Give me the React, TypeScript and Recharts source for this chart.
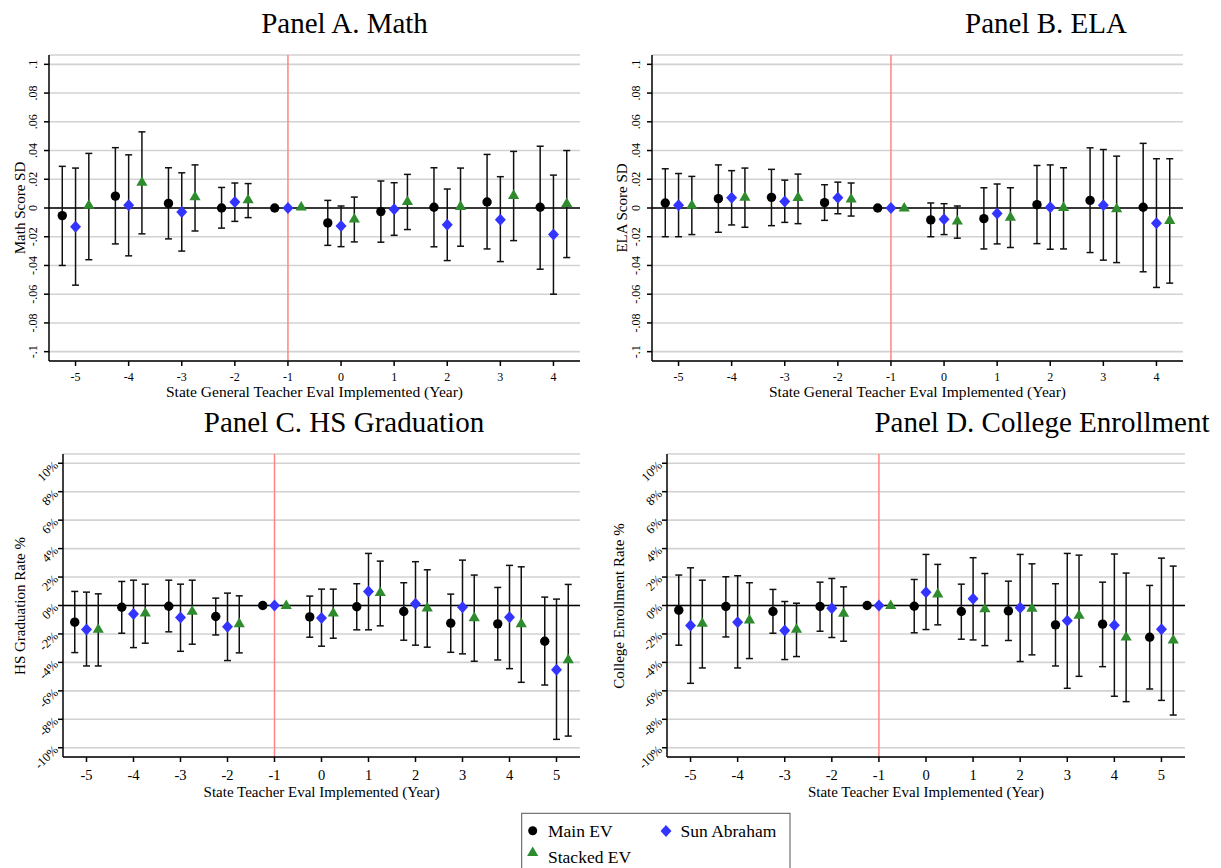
import React from 'react';
import { ScatterChart, Scatter, XAxis, YAxis, CartesianGrid, ReferenceLine, ErrorBar } from 'recharts';

const FONT = '"Liberation Serif", "Times New Roman", Times, serif';
const BLUE = '#3434ff';
const GREEN = '#2e8b2e';

// ---------- categories / ticks ----------
const yearsAB = [-5, -4, -3, -2, -1, 0, 1, 2, 3, 4];
const yearsCD = [-5, -4, -3, -2, -1, 0, 1, 2, 3, 4, 5];
const yTicksAB = [-0.1, -0.08, -0.06, -0.04, -0.02, 0, 0.02, 0.04, 0.06, 0.08, 0.1];
const yTicksCD = [-10, -8, -6, -4, -2, 0, 2, 4, 6, 8, 10];

// ---------- Panel A. Math ----------
const mathMain = [-0.0053, 0.0083, 0.0032, 0, 0, -0.0104, -0.0025, 0.0005, 0.0042, 0.0005];
const mathMainLo = [-0.040, -0.025, -0.0215, -0.014, null, -0.026, -0.0238, -0.027, -0.0285, -0.0426];
const mathMainHi = [0.029, 0.042, 0.028, 0.0143, null, 0.0053, 0.0188, 0.028, 0.0373, 0.043];
const mathSun = [-0.013, 0.0019, -0.0028, 0.0042, 0, -0.0125, -0.0009, -0.0116, -0.0081, -0.0185];
const mathSunLo = [-0.0537, -0.0333, -0.030, -0.0093, null, -0.0269, -0.019, -0.0366, -0.0373, -0.060];
const mathSunHi = [0.0278, 0.037, 0.0245, 0.0174, null, 0.0014, 0.0176, 0.0132, 0.0218, 0.0229];
const mathStk = [0.002, 0.018, 0.0079, 0.0058, 0.0007, -0.0076, 0.0046, 0.0012, 0.0088, 0.0032];
const mathStkLo = [-0.036, -0.018, -0.016, -0.0067, null, -0.0236, -0.015, -0.0266, -0.0227, -0.0345];
const mathStkHi = [0.038, 0.053, 0.030, 0.017, null, 0.0076, 0.0234, 0.0278, 0.0394, 0.040];

// ---------- Panel B. ELA ----------
const elaMain = [0.0035, 0.0065, 0.0074, 0.0037, 0, -0.0083, -0.0074, 0.0023, 0.0053, 0.0005];
const elaMainLo = [-0.020, -0.0169, -0.0123, -0.0086, null, -0.020, -0.0285, -0.0248, -0.031, -0.0444];
const elaMainHi = [0.0273, 0.030, 0.0269, 0.0162, null, 0.0035, 0.0141, 0.0296, 0.0419, 0.045];
const elaSun = [0.0019, 0.0072, 0.0046, 0.0072, 0, -0.0079, -0.0039, 0.0005, 0.002, -0.0106];
const elaSunLo = [-0.020, -0.0118, -0.010, -0.004, null, -0.0185, -0.025, -0.0287, -0.0363, -0.0553];
const elaSunHi = [0.024, 0.026, 0.0194, 0.018, null, 0.003, 0.0167, 0.030, 0.0407, 0.0343];
const elaStk = [0.0019, 0.0076, 0.0074, 0.0063, 0, -0.009, -0.0063, 0.0005, -0.0005, -0.0086];
const elaStkLo = [-0.0185, -0.0134, -0.0109, -0.0056, null, -0.021, -0.0275, -0.0285, -0.038, -0.0523];
const elaStkHi = [0.022, 0.0278, 0.0236, 0.0174, null, 0.0014, 0.0141, 0.028, 0.0361, 0.0343];

// ---------- Panel C. HS Graduation (%) ----------
const gradMain = [-1.17, -0.12, -0.05, -0.77, 0, -0.80, -0.09, -0.42, -1.24, -1.29, -2.51];
const gradMainLo = [-3.31, -1.95, -1.85, -2.07, null, -2.23, -1.71, -2.44, -3.29, -3.83, -5.59];
const gradMainHi = [0.99, 1.69, 1.78, 0.52, null, 0.66, 1.53, 1.60, 0.80, 1.27, 0.59];
const gradSun = [-1.69, -0.59, -0.85, -1.50, 0, -0.87, 0.99, 0.12, -0.12, -0.82, -4.51];
const gradSunLo = [-4.25, -2.96, -3.22, -3.87, null, -2.86, -1.71, -2.79, -3.40, -4.44, -9.41];
const gradSunHi = [0.94, 1.78, 1.50, 0.87, null, 1.15, 3.66, 3.08, 3.19, 2.82, 0.45];
const gradStk = [-1.67, -0.52, -0.40, -1.27, 0, -0.52, 0.92, -0.16, -0.85, -1.27, -3.80];
const gradStkLo = [-4.25, -2.65, -2.72, -3.33, null, -2.30, -1.43, -2.93, -3.92, -5.40, -9.18];
const gradStkHi = [0.82, 1.50, 1.78, 0.68, null, 1.15, 3.12, 2.51, 2.14, 2.72, 1.48];

// ---------- Panel D. College Enrollment (%) ----------
const colMain = [-0.33, -0.07, -0.42, -0.07, 0, -0.05, -0.42, -0.38, -1.36, -1.31, -2.23];
const colMainLo = [-2.79, -2.21, -1.95, -1.81, null, -1.92, -2.37, -2.46, -4.25, -4.30, -5.87];
const colMainHi = [2.14, 2.02, 1.13, 1.64, null, 1.83, 1.50, 1.71, 1.53, 1.64, 1.41];
const colSun = [-1.41, -1.17, -1.76, -0.19, 0, 0.94, 0.47, -0.16, -1.08, -1.38, -1.67];
const colSunLo = [-5.47, -4.39, -3.80, -2.25, null, -1.69, -2.42, -3.94, -5.82, -6.38, -6.67];
const colSunHi = [2.65, 2.09, 0.28, 1.90, null, 3.59, 3.36, 3.59, 3.66, 3.62, 3.33];
const colStk = [-1.24, -1.01, -1.67, -0.54, 0, 0.82, -0.23, -0.19, -0.68, -2.21, -2.42];
const colStkLo = [-4.39, -3.73, -3.59, -2.51, null, -1.36, -2.82, -3.47, -4.98, -6.76, -7.70];
const colStkHi = [1.78, 1.60, 0.16, 1.31, null, 2.89, 2.25, 2.93, 3.54, 2.28, 2.77];

type Num = number | null;

function build(years: number[], offset: number, v: number[], lo: Num[], hi: Num[]) {
  return years.map((yr, i) => ({
    x: yr + offset,
    y: v[i],
    err: lo[i] == null || hi[i] == null ? null : [v[i] - (lo[i] as number), (hi[i] as number) - v[i]],
  }));
}

const CircleShape = (p: any) => <circle cx={p.cx} cy={p.cy} r={4.7} fill="#000" />;
const DiamondShape = (p: any) => (
  <path d={`M${p.cx},${p.cy - 6} L${p.cx + 5.5},${p.cy} L${p.cx},${p.cy + 6} L${p.cx - 5.5},${p.cy} Z`} fill={BLUE} />
);
const TriangleShape = (p: any) => (
  <path d={`M${p.cx},${p.cy - 6} L${p.cx + 5.6},${p.cy + 3.6} L${p.cx - 5.6},${p.cy + 3.6} Z`} fill={GREEN} />
);

const fmtSD = (v: number) => {
  if (Math.abs(v) < 1e-9) return '0';
  const s = (Math.round(v * 100) / 100).toString();
  return s.replace('0.', '.');
};

const SDTick = (p: any) => (
  <text
    x={p.x - 7}
    y={p.y}
    transform={`rotate(-90, ${p.x - 7}, ${p.y})`}
    textAnchor="middle"
    fontFamily={FONT}
    fontSize={12}
    fill="#000"
  >
    {fmtSD(p.payload.value)}
  </text>
);

const PctTick = (p: any) => (
  <text
    x={p.x}
    y={p.y + 4}
    transform={`rotate(-45, ${p.x}, ${p.y})`}
    textAnchor="end"
    fontFamily={FONT}
    fontSize={12.5}
    fill="#000"
  >
    {`${p.payload.value}%`}
  </text>
);

type PanelProps = {
  x0: number; x1: number; y0: number; y1: number;
  xDomain: [number, number]; xTicks: number[];
  yDomain: [number, number]; yTicks: number[];
  years: number[];
  main: number[]; mainLo: Num[]; mainHi: Num[];
  sun: number[]; sunLo: Num[]; sunHi: Num[];
  stk: number[]; stkLo: Num[]; stkHi: Num[];
  pct: boolean;
};

function Panel(pp: PanelProps) {
  const YW = 50, XH = 40;
  const ML = 10, MT = 10, MR = 20, MB = 10;
  const width = pp.x1 - pp.x0 + ML + YW + MR;
  const height = pp.y1 - pp.y0 + MT + MB + XH;
  const mainData = build(pp.years, -0.25, pp.main, pp.mainLo, pp.mainHi);
  const sunData = build(pp.years, 0, pp.sun, pp.sunLo, pp.sunHi);
  const stkData = build(pp.years, 0.25, pp.stk, pp.stkLo, pp.stkHi);
  const xFont = pp.pct ? 14.5 : 12;
  return (
    <div style={{ position: 'absolute', left: pp.x0 - ML - YW, top: pp.y0 - MT }}>
      <ScatterChart width={width} height={height} margin={{ left: ML, top: MT, right: MR, bottom: MB }}>
        <CartesianGrid vertical={false} stroke="#d2d2d2" strokeWidth={1.6} />
        <XAxis
          type="number"
          dataKey="x"
          domain={pp.xDomain}
          ticks={pp.xTicks}
          height={XH}
          allowDataOverflow
          stroke="#000"
          strokeWidth={1.5}
          tickSize={5}
          tickMargin={pp.pct ? 7.5 : 6}
          tick={{ fontFamily: FONT, fontSize: xFont, fill: '#000' }}
          interval={0}
        />
        <YAxis
          type="number"
          dataKey="y"
          domain={pp.yDomain}
          ticks={pp.yTicks}
          width={YW}
          allowDataOverflow
          stroke="#000"
          strokeWidth={1.5}
          tickSize={5}
          tickMargin={pp.pct ? 2 : 0}
          tick={pp.pct ? <PctTick /> : <SDTick />}
          interval={0}
        />
        <ReferenceLine x={-1} stroke="#ff8585" strokeWidth={1.5} />
        <ReferenceLine y={0} stroke="#000" strokeWidth={1.5} />
        <Scatter data={mainData} shape={CircleShape} isAnimationActive={false}>
          <ErrorBar dataKey="err" direction="y" width={3.5} stroke="#111" strokeWidth={1.5} />
        </Scatter>
        <Scatter data={sunData} shape={DiamondShape} isAnimationActive={false}>
          <ErrorBar dataKey="err" direction="y" width={3.5} stroke="#111" strokeWidth={1.5} />
        </Scatter>
        <Scatter data={stkData} shape={TriangleShape} isAnimationActive={false}>
          <ErrorBar dataKey="err" direction="y" width={3.5} stroke="#111" strokeWidth={1.5} />
        </Scatter>
      </ScatterChart>
    </div>
  );
}

export default function App() {
  const sdDomain: [number, number] = [-0.1065, 0.1065];
  const pctDomain: [number, number] = [-10.65, 10.65];
  return (
    <div style={{ position: 'absolute', left: 0, top: 0, width: 1221, height: 868, background: '#fff', overflow: 'hidden' }}>
      <Panel
        x0={49} x1={580} y0={55} y1={361}
        xDomain={[-5.5, 4.5]} xTicks={yearsAB} yDomain={sdDomain} yTicks={yTicksAB} years={yearsAB}
        main={mathMain} mainLo={mathMainLo} mainHi={mathMainHi}
        sun={mathSun} sunLo={mathSunLo} sunHi={mathSunHi}
        stk={mathStk} stkLo={mathStkLo} stkHi={mathStkHi}
        pct={false}
      />
      <Panel
        x0={652} x1={1183} y0={55} y1={361}
        xDomain={[-5.5, 4.5]} xTicks={yearsAB} yDomain={sdDomain} yTicks={yTicksAB} years={yearsAB}
        main={elaMain} mainLo={elaMainLo} mainHi={elaMainHi}
        sun={elaSun} sunLo={elaSunLo} sunHi={elaSunHi}
        stk={elaStk} stkLo={elaStkLo} stkHi={elaStkHi}
        pct={false}
      />
      <Panel
        x0={63} x1={580} y0={454} y1={757}
        xDomain={[-5.5, 5.5]} xTicks={yearsCD} yDomain={pctDomain} yTicks={yTicksCD} years={yearsCD}
        main={gradMain} mainLo={gradMainLo} mainHi={gradMainHi}
        sun={gradSun} sunLo={gradSunLo} sunHi={gradSunHi}
        stk={gradStk} stkLo={gradStkLo} stkHi={gradStkHi}
        pct={true}
      />
      <Panel
        x0={667} x1={1185} y0={454} y1={757}
        xDomain={[-5.5, 5.5]} xTicks={yearsCD} yDomain={pctDomain} yTicks={yTicksCD} years={yearsCD}
        main={colMain} mainLo={colMainLo} mainHi={colMainHi}
        sun={colSun} sunLo={colSunLo} sunHi={colSunHi}
        stk={colStk} stkLo={colStkLo} stkHi={colStkHi}
        pct={true}
      />
      <svg width={1221} height={868} style={{ position: 'absolute', left: 0, top: 0, pointerEvents: 'none' }}>
        <g fontFamily={FONT} fill="#000">
          <text x={344.5} y={33} fontSize={29} textAnchor="middle">Panel A. Math</text>
          <text x={1046} y={33} fontSize={29} textAnchor="middle">Panel B. ELA</text>
          <text x={344} y={431.5} fontSize={29} textAnchor="middle">Panel C. HS Graduation</text>
          <text x={1042} y={431.5} fontSize={29} textAnchor="middle">Panel D. College Enrollment</text>

          <text x={314.5} y={397} fontSize={15.5} textAnchor="middle">State General Teacher Eval Implemented (Year)</text>
          <text x={917.5} y={397} fontSize={15.5} textAnchor="middle">State General Teacher Eval Implemented (Year)</text>
          <text x={321.7} y={797} fontSize={15} textAnchor="middle">State Teacher Eval Implemented (Year)</text>
          <text x={926} y={797} fontSize={15} textAnchor="middle">State Teacher Eval Implemented (Year)</text>

          <text x={25} y={208} fontSize={15} textAnchor="middle" transform="rotate(-90, 25, 208)">Math Score SD</text>
          <text x={627} y={208} fontSize={15} textAnchor="middle" transform="rotate(-90, 627, 208)">ELA Score SD</text>
          <text x={25} y={606} fontSize={15} textAnchor="middle" transform="rotate(-90, 25, 606)">HS Graduation Rate %</text>
          <text x={624} y={606} fontSize={15} textAnchor="middle" transform="rotate(-90, 624, 606)">College Enrollment Rate %</text>
        </g>
        <rect x={521.7} y={813.3} width={268.3} height={70} fill="none" stroke="#555" strokeWidth={1} />
        <circle cx={532.7} cy={830.7} r={4.5} fill="#000" />
        <path d="M666,825 L671.5,831 L666,837 L660.5,831 Z" fill={BLUE} />
        <path d="M532.7,846.5 L538.3,856 L527.1,856 Z" fill={GREEN} />
        <g fontFamily={FONT} fontSize={17.5} fill="#000">
          <text x={548} y={837}>Main EV</text>
          <text x={680.5} y={837}>Sun Abraham</text>
          <text x={548} y={862.5}>Stacked EV</text>
        </g>
      </svg>
    </div>
  );
}
